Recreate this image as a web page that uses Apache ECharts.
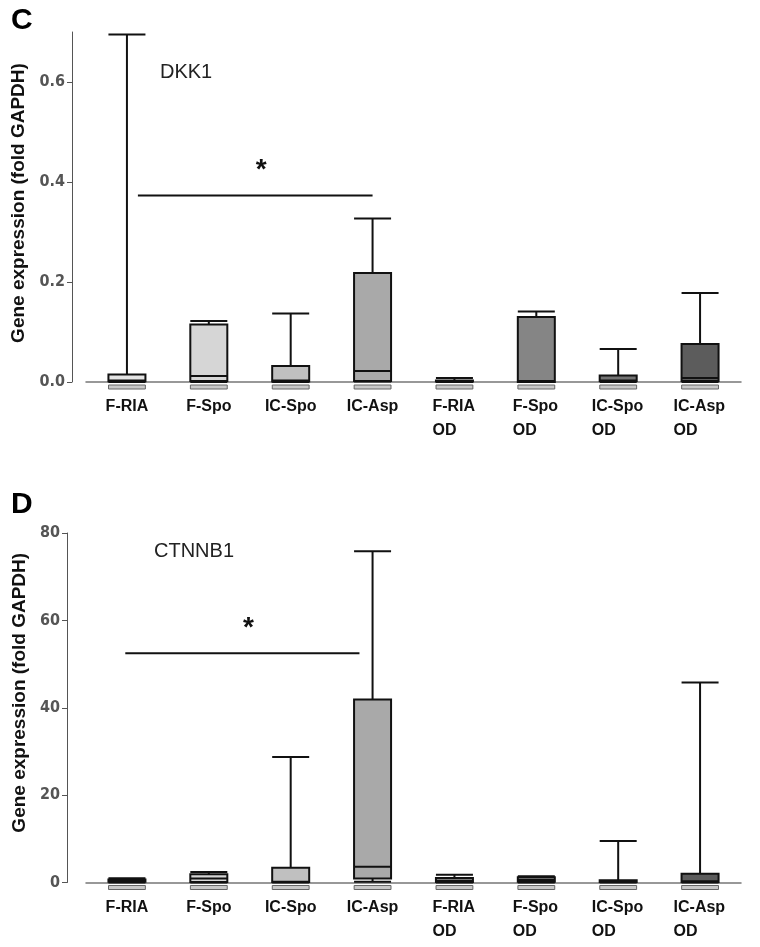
<!DOCTYPE html>
<html>
<head>
<meta charset="utf-8">
<script src="https://cdn.jsdelivr.net/npm/echarts@6/dist/echarts.min.js"></script>
<style>html,body{margin:0;padding:0;background:#fff;}#c{width:760px;height:947px;}</style>
</head>
<body>
<div id="c"></div>
<script>
// ---- data ----
const categories = ['F-RIA', 'F-Spo', 'IC-Spo', 'IC-Asp', 'F-RIA\nOD', 'F-Spo\nOD', 'IC-Spo\nOD', 'IC-Asp\nOD'];
// [min, Q1, median, Q3, max]
const dkk1 = [
  [0.000, 0.0015, 0.003, 0.015, 0.695],
  [0.000, 0.002, 0.012, 0.115, 0.122],
  [0.000, 0.001, 0.003, 0.032, 0.137],
  [0.001, 0.002, 0.022, 0.218, 0.327],
  [0.000, 0.001, 0.002, 0.003, 0.008],
  [0.000, 0.000, 0.002, 0.130, 0.141],
  [0.000, 0.002, 0.003, 0.013, 0.066],
  [0.000, 0.002, 0.008, 0.076, 0.178]
];
const ctnnb1 = [
  [0.0, 0.2, 0.4, 0.7, 1.0],
  [0.0, 0.1, 0.9, 1.9, 2.4],
  [0.0, 0.1, 0.2, 3.4, 28.7],
  [0.15, 0.9, 3.6, 41.9, 75.8],
  [0.0, 0.1, 0.4, 1.05, 1.8],
  [0.0, 0.2, 0.6, 1.2, 1.45],
  [0.0, 0.1, 0.2, 0.5, 9.5],
  [0.0, 0.1, 0.3, 2.0, 45.8]
];
const boxColors = ['#e4e4e4', '#d6d6d6', '#c0c0c0', '#a9a9a9', '#a2a2a2', '#858585', '#737373', '#5c5c5c'];
const ticksTop = [0, 0.2, 0.4, 0.6];
const ticksBottom = [0, 20, 40, 60, 80];
// significance bar: [start (category units), end (category units), y value]
const sigTop = [0.134, 3.0, 0.373];
const sigBottom = [-0.02, 2.84, 52.5];

// ---- chart ----
const chart = echarts.init(document.getElementById('c'), null, {renderer: 'canvas'});

const labelFont = '"Liberation Sans", Arial, sans-serif';
const cv = document.createElement('canvas').getContext('2d');
cv.font = 'bold 16px ' + labelFont;
const rich = {};
categories.forEach((c, i) => {
  const first = c.split('\n')[0];
  rich['l' + i] = {
    width: Math.ceil(cv.measureText(first).width) + 1,
    align: 'left', fontSize: 16, fontWeight: 'bold', fontFamily: labelFont,
    color: '#111', lineHeight: 24
  };
});
function catFormatter(v, i) {
  if (v.indexOf('\n') < 0) return v;
  const parts = v.split('\n');
  return '{l' + i + '|' + parts[0] + '}\n{l' + i + '|' + parts[1] + '}';
}

function xAxisCfg(gi) {
  return {
    type: 'category', gridIndex: gi, data: categories, offset: 5,
    axisLine: {lineStyle: {color: '#777', width: 1.5}},
    axisTick: {show: false},
    axisLabel: {
      interval: 0, margin: 8, fontSize: 16, fontWeight: 'bold', fontFamily: labelFont,
      color: '#111', lineHeight: 24, formatter: catFormatter, rich: rich
    }
  };
}
function yAxisCfg(gi, max, interval, ticks, offset, gap, pad, fmt) {
  return {
    type: 'value', gridIndex: gi, min: 0, max: max, interval: interval, offset: offset,
    name: 'Gene expression (fold GAPDH)', nameLocation: 'middle', nameGap: gap,
    nameTextStyle: {fontSize: 19, fontWeight: 'bold', fontFamily: labelFont, color: '#111', padding: pad},
    splitLine: {show: false},
    axisLine: {show: true, lineStyle: {color: '#555', width: 1}},
    axisTick: {show: true, length: 5, lineStyle: {color: '#555'}, customValues: ticks},
    axisLabel: {
      customValues: ticks, margin: 7, fontSize: 16, fontWeight: 'bold', color: '#555',
      fontFamily: '"DejaVu Sans Condensed", "Liberation Sans Narrow", sans-serif',
      formatter: fmt
    }
  };
}
function boxSeries(gi, data) {
  return {
    type: 'boxplot', xAxisIndex: gi, yAxisIndex: gi, boxWidth: [37, 37],
    itemStyle: {borderColor: '#111', borderWidth: 2},
    emphasis: {disabled: true},
    data: data.map((d, i) => ({value: d, itemStyle: {color: boxColors[i], borderColor: '#111'}}))
  };
}
function groundSeries(gi) {
  return {
    type: 'custom', xAxisIndex: gi, yAxisIndex: gi, silent: true, clip: false,
    data: categories.map((c, i) => [i, 0]),
    renderItem: function (params, api) {
      const p = api.coord([api.value(0), api.value(1)]);
      const w = api.size([1, 0])[0] * 0.45;
      return {type: 'rect', shape: {x: p[0] - w / 2, y: p[1] + 3, width: w, height: 4},
        style: {fill: '#c8c8c8', stroke: '#666', lineWidth: 1}};
    }
  };
}
function sigSeries(gi, sig) {
  return {
    type: 'custom', xAxisIndex: gi, yAxisIndex: gi, silent: true, clip: false,
    encode: {x: 3, y: 2},
    data: [[sig[0], sig[1], sig[2], 0]],
    renderItem: function (params, api) {
      const base = api.coord([0, api.value(2)]);
      const band = api.size([1, 0])[0];
      const x1 = base[0] + api.value(0) * band;
      const x2 = base[0] + api.value(1) * band;
      return {type: 'group', children: [
        {type: 'line', shape: {x1: x1, y1: base[1], x2: x2, y2: base[1]}, style: {stroke: '#111', lineWidth: 2}},
        {type: 'text', style: {text: '*', x: (x1 + x2) / 2 + 6, y: base[1] - 25, align: 'center', verticalAlign: 'middle',
          font: 'bold 28px ' + labelFont, fill: '#111'}}
      ]};
    }
  };
}

const option = {
  backgroundColor: '#fff',
  animation: false,
  title: [
    {text: 'C', left: 6, top: 1, textStyle: {fontSize: 30, fontWeight: 'bold', fontFamily: labelFont, color: '#000'}},
    {text: 'D', left: 6, top: 485, textStyle: {fontSize: 30, fontWeight: 'bold', fontFamily: labelFont, color: '#000'}},
    {text: 'DKK1', left: 155, top: 57, textStyle: {fontSize: 20, fontWeight: 'normal', fontFamily: labelFont, color: '#222'}},
    {text: 'CTNNB1', left: 149, top: 536, textStyle: {fontSize: 20, fontWeight: 'normal', fontFamily: labelFont, color: '#222'}}
  ],
  grid: [
    {left: 86, right: 19, top: 32, height: 350},
    {left: 86, right: 19, top: 533, height: 349.5}
  ],
  xAxis: [xAxisCfg(0), xAxisCfg(1)],
  yAxis: [
    yAxisCfg(0, 0.7, 0.2, ticksTop, 14, 42, [0, 0, 0, 8], v => v.toFixed(1)),
    yAxisCfg(1, 80, 20, ticksBottom, 19, 37, [0, 0, 0, 30], v => String(v))
  ],
  series: [
    boxSeries(0, dkk1), groundSeries(0), sigSeries(0, sigTop),
    boxSeries(1, ctnnb1), groundSeries(1), sigSeries(1, sigBottom)
  ]
};
chart.setOption(option);
</script>
</body>
</html>
